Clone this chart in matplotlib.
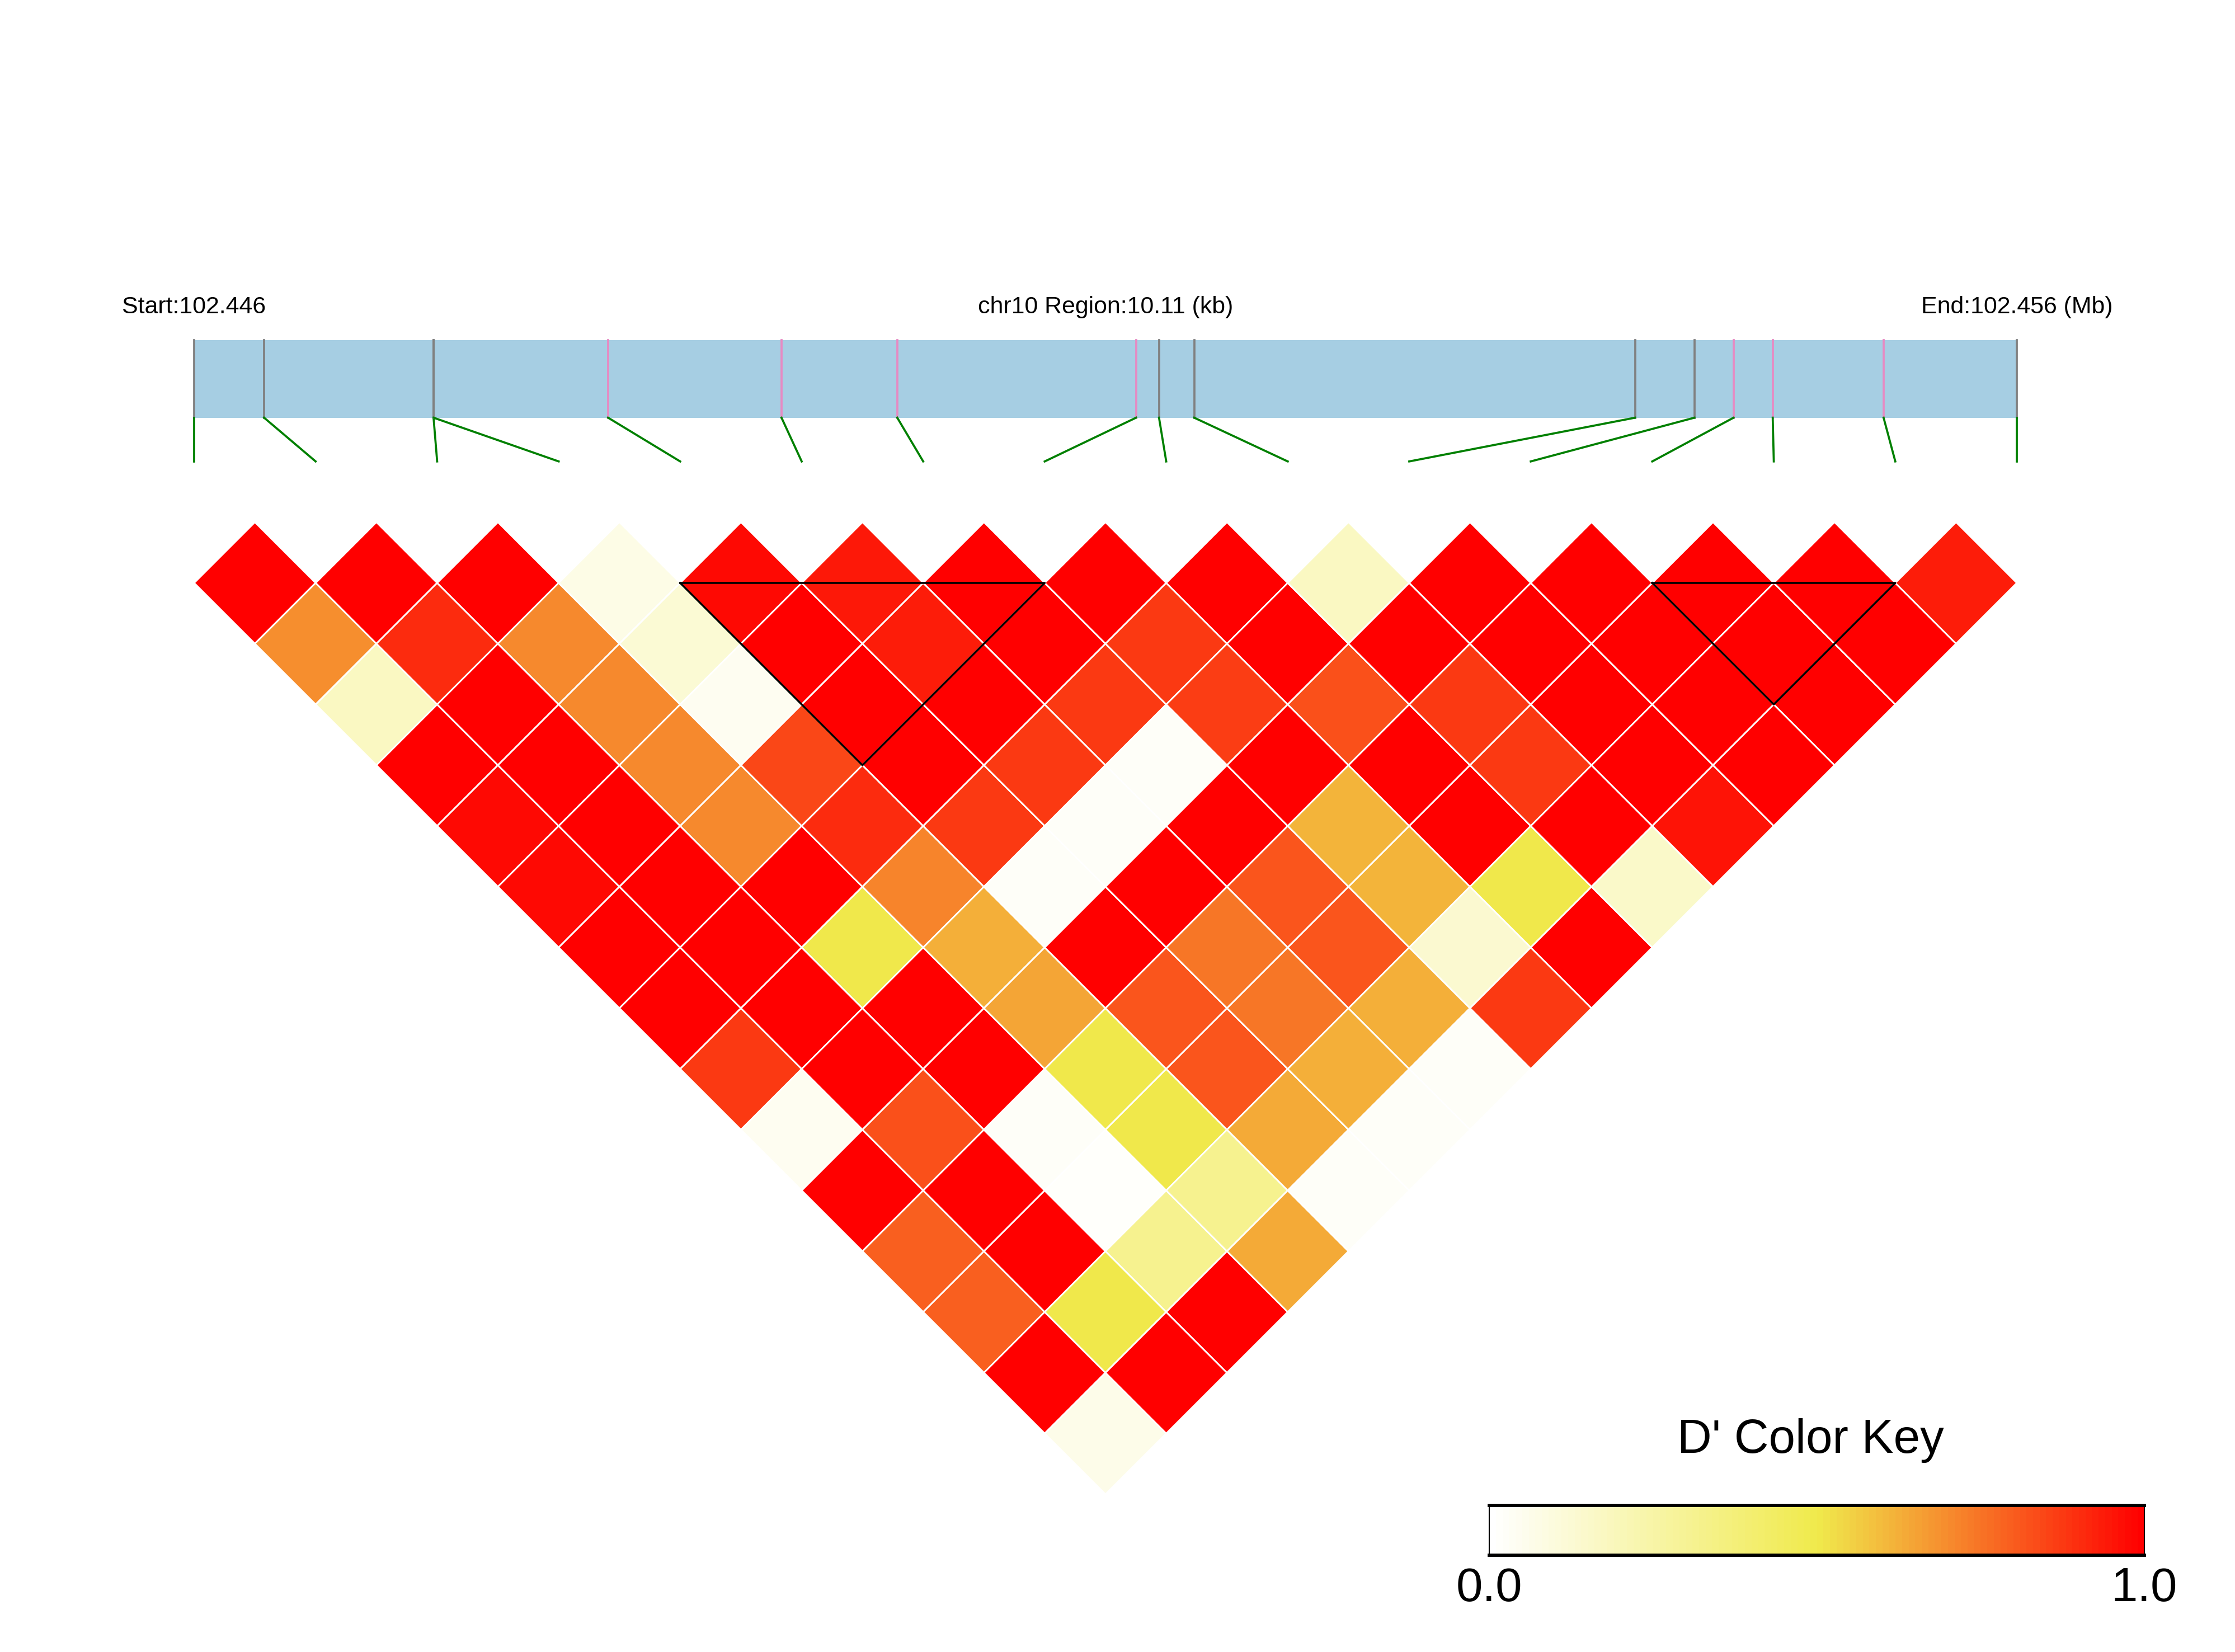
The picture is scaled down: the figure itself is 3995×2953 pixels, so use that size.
import numpy as np
import matplotlib
matplotlib.use("Agg")
import matplotlib.pyplot as plt
from matplotlib.collections import PolyCollection
from matplotlib.colors import LinearSegmentedColormap, Normalize

plt.rcParams['font.family'] = ['Liberation Sans', 'DejaVu Sans']

# ---------------- data ----------------
chrom = "chr10"
region_start = 102446012
snp_offsets = [0, 388, 1328, 1328, 2296, 3258, 3900, 5225, 5352, 5547,
               7993, 8322, 8539, 8756, 9371, 10110]
# tick colour in the gene bar (gray / pink)
snp_flag = ['g', 'g', 'g', 'g', 'p', 'p', 'p', 'p', 'g', 'g',
            'g', 'g', 'p', 'p', 'p', 'g']

# D' values, one list per distance between SNPs (j - i = 1, 2, ...)
dprime_d1 = [1, 1, 1, 0.07, 0.97, 0.94, 1, 1, 1, 0.17, 1, 1, 1, 1, 0.93]
dprime_d2 = [0.69, 0.90, 0.70, 0.12, 1, 0.93, 1, 0.87, 1, 1, 1, 1, 1, 1]
dprime_d3 = [0.17, 1, 0.70, 0.04, 1, 1, 0.87, 0.86, 0.82, 0.87, 1, 1, 1]
dprime_d4 = [1, 1, 0.70, 0.84, 1, 0.87, 0.02, 1, 1, 0.87, 1, 1]
dprime_d5 = [0.97, 1, 0.70, 0.90, 0.87, 0.02, 1, 0.61, 1, 1, 0.95]
dprime_d6 = [0.97, 1, 1, 0.71, 0.02, 1, 0.81, 0.61, 0.50, 0.15]
dprime_d7 = [1, 1, 0.50, 0.62, 1, 0.74, 0.81, 0.13, 1]
dprime_d8 = [1, 1, 1, 0.64, 0.81, 0.74, 0.62, 0.87]
dprime_d9 = [0.87, 1, 1, 0.50, 0.81, 0.62, 0.02]
dprime_d10 = [0.04, 0.82, 0.02, 0.50, 0.63, 0.02]
dprime_d11 = [1, 1, 0.01, 0.31, 0.02]
dprime_d12 = [0.79, 1, 0.31, 0.63]
dprime_d13 = [0.79, 0.50, 1]
dprime_d14 = [1, 1]
dprime_d15 = [0.06]

ld_blocks = [(4, 7), (12, 14)]

# ---------------- build matrix ----------------
diags = [dprime_d1, dprime_d2, dprime_d3, dprime_d4, dprime_d5, dprime_d6,
         dprime_d7, dprime_d8, dprime_d9, dprime_d10, dprime_d11, dprime_d12,
         dprime_d13, dprime_d14, dprime_d15]
n = len(snp_offsets)
D = np.full((n, n), np.nan)
for d, row in enumerate(diags, start=1):
    for i, v in enumerate(row):
        D[i, i + d] = v

snp_pos = np.array(snp_offsets) + region_start
span = snp_pos[-1] - snp_pos[0]
bar_x = (snp_pos - snp_pos[0]) / span * (n - 1)

cmap = LinearSegmentedColormap.from_list(
    "ld", ["#FFFFFF", "#F0EA4C", "#FF0000"], N=100)
norm = Normalize(0, 1)

# ---------------- figure ----------------
fig = plt.figure(figsize=(3995 / 300, 2953 / 300), dpi=300)
ax = fig.add_axes([0, 0, 1, 1])
U = 217.2
ax.set_xlim(-347 / U, (3995 - 347) / U)
ax.set_ylim(-(2953 - 1042) / U, 1042 / U)
ax.axis('off')

# header text
ax.text(0, 2.27, "Start:%.3f" % (snp_pos[0] / 1e6), ha='center', va='center', fontsize=10.3)
ax.text((n - 1) / 2, 2.27, "%s Region:%.2f (kb)" % (chrom, span / 1000),
        ha='center', va='center', fontsize=10.3)
ax.text(n - 1, 2.27, "End:%.3f (Mb)" % (snp_pos[-1] / 1e6), ha='center', va='center', fontsize=10.3)

# gene bar
ax.fill_between([0, n - 1], 1.36, 2.0, color='#A6CEE3', lw=0)
for k in range(n):
    c = '#808080' if snp_flag[k] == 'g' else '#E78AC3'
    ax.plot([bar_x[k], bar_x[k]], [1.36, 2.0], color=c, lw=0.9)
    ax.plot([bar_x[k], k], [1.36, 1.0], color='green', lw=0.9)

# LD diamonds
polys, vals = [], []
for i in range(n):
    for j in range(i + 1, n):
        cx = (i + j) / 2
        cy = -(j - i - 1) / 2
        polys.append([(cx, cy + 0.5), (cx + 0.5, cy), (cx, cy - 0.5), (cx - 0.5, cy)])
        vals.append(D[i, j])
pc = PolyCollection(polys, array=np.array(vals), cmap=cmap, norm=norm,
                    edgecolors='white', linewidths=0.7)
ax.add_collection(pc)

# LD blocks
for a, b in ld_blocks:
    ax.plot([a, b, (a + b) / 2, a], [0, 0, -(b - a) / 2, 0], color='black', lw=0.85)

# colour key
x0, x1 = 10.66, 16.05
y0, y1 = -8.0, -7.59
xe = np.linspace(x0, x1, 101)
ax.pcolormesh(xe, [y0, y1], np.linspace(0, 1, 100)[None, :], cmap=cmap, norm=norm,
              shading='flat', antialiased=False)
ax.plot([x0, x1, x1, x0, x0], [y0, y0, y1, y1, y0], color='black', lw=0.5)
ax.plot([x0, x1], [y0, y0], color='black', lw=1.4)
ax.plot([x0, x1], [y1, y1], color='black', lw=1.4)
ax.text((x0 + x1) / 2 - 0.05, -7.06, "D' Color Key", ha='center', va='center', fontsize=20.5)
ax.text(x0, -8.28, "0.0", ha='center', va='center', fontsize=20.5)
ax.text(x1, -8.28, "1.0", ha='center', va='center', fontsize=20.5)

fig.savefig("out.png", dpi=300)
